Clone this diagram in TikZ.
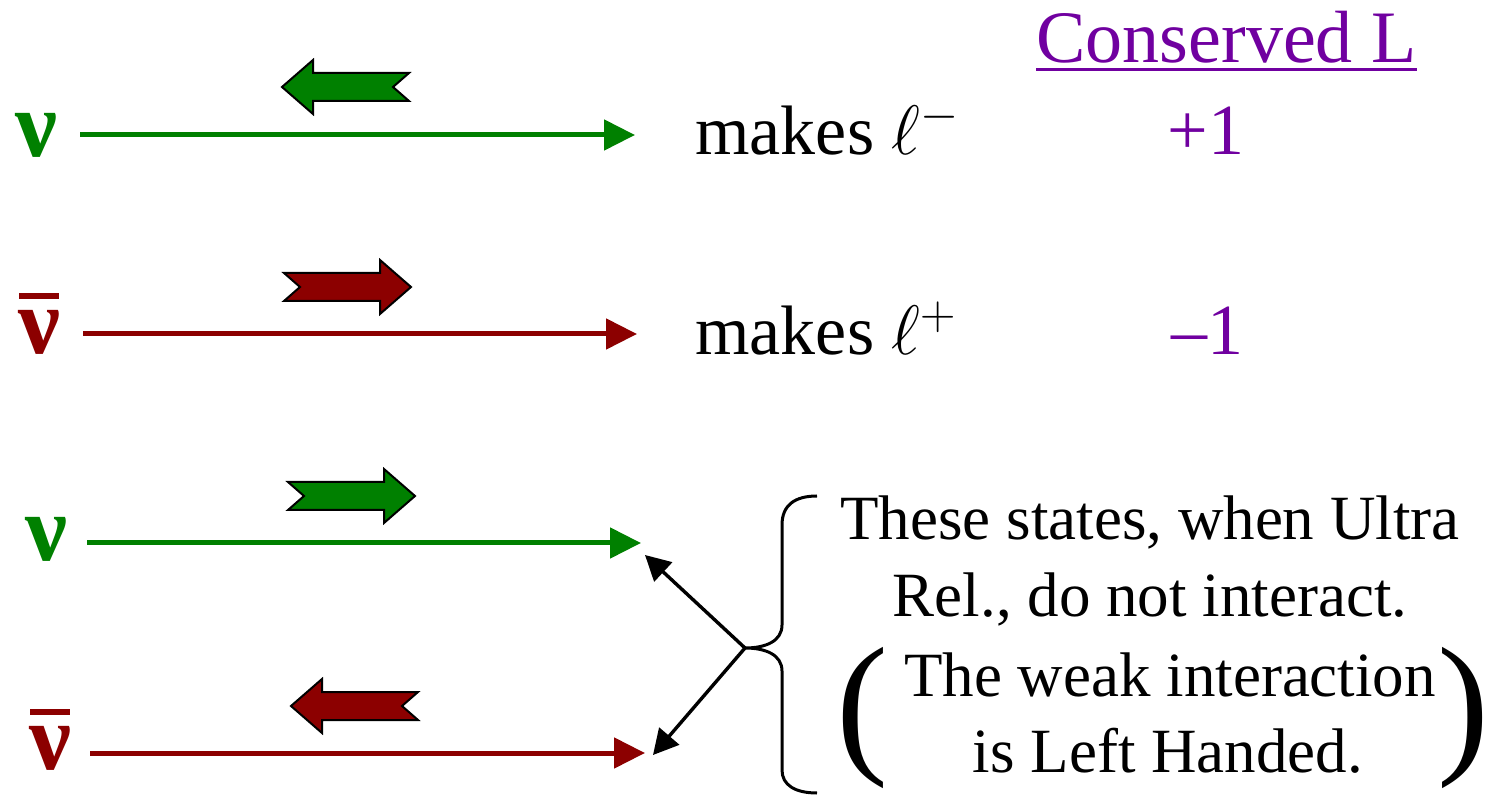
\RequirePackage{fix-cm}
\documentclass[tikz,border=0pt]{standalone}
\usepackage{fontspec}
\IfFontExistsTF{Liberation Serif}{\setmainfont{Liberation Serif}}{\setmainfont{DejaVu Serif}}
\usetikzlibrary{arrows.meta}
\definecolor{nugreen}{RGB}{0,128,0}
\definecolor{nured}{RGB}{140,0,0}
\definecolor{lpurple}{RGB}{112,0,160}
\tikzset{
  nulabel/.style={inner sep=0pt, font=\rmfamily\fontsize{47}{50}\selectfont\bfseries},
  bigtext/.style={inner sep=0pt, anchor=base west, font=\rmfamily\fontsize{35}{40}\selectfont},
  numtext/.style={inner sep=0pt, anchor=base, text=lpurple, font=\rmfamily\fontsize{36}{40}\selectfont},
  boxtext/.style={inner sep=0pt, anchor=base, font=\rmfamily\fontsize{31.5}{36}\selectfont},
  paren/.style={inner sep=0pt, font=\rmfamily\fontsize{78}{80}\selectfont},
  beam/.style={line width=2.5pt, -{Triangle[length=15.5pt,width=15pt]}},
  pointer/.style={line width=1.7pt, -{Triangle[length=12.5pt,width=13pt]}},
  nubar/.style={line width=3pt},
  pics/blockarrow/.style={code={
    \draw[line width=1pt, fill=#1, line join=miter]
      (16,0) -- (0,-14) -- (96,-14) -- (96,-27) -- (127,0)
      -- (96,27) -- (96,14) -- (0,14) -- cycle;
  }}
}
\begin{document}
\begin{tikzpicture}[x=0.5pt,y=-0.5pt]
\useasboundingbox (0,0) rectangle (1495,796);

% row 1: nu
\node[nulabel, text=nugreen] (nu1) at (36,135) {ν};
\coordinate (s1) at (80,135);
\coordinate (e1) at (635,135);
\draw[beam, nugreen] (s1) -- (e1);
\pic[xscale=-1] at (409,87) {blockarrow=nugreen};
\node[bigtext] (m1) at (695,155) {makes $\ell^{-}$};
\node[numtext] (p1) at (1206,155) {+1};

% row 2: anti-nu
\node[nulabel, text=nured] (nu2) at (39,332) {ν};
\draw[nubar, nured] (19,296) -- (59,296);
\coordinate (s2) at (83,334);
\coordinate (e2) at (637,334);
\draw[beam, nured] (s2) -- (e2);
\pic at (284,287) {blockarrow=nured};
\node[bigtext] (m2) at (695,355) {makes $\ell^{+}$};
\node[numtext] (p2) at (1207,355) {–1};

% header
\node[inner sep=0pt, anchor=base west, text=lpurple, font=\rmfamily\fontsize{37}{40}\selectfont] (cl) at (1036,63) {Conserved L};
\draw[lpurple, line width=1.5pt] ([yshift=-3.5pt]cl.base west) -- ([yshift=-3.5pt]cl.base east);

% row 3: nu
\node[nulabel, text=nugreen] (nu3) at (46,539) {ν};
\coordinate (s3) at (87,543);
\coordinate (e3) at (641,543);
\draw[beam, nugreen] (s3) -- (e3);
\pic at (288,496) {blockarrow=nugreen};

% row 4: anti-nu
\node[nulabel, text=nured] (nu4) at (50,748) {ν};
\draw[nubar, nured] (30,712) -- (70,712);
\coordinate (s4) at (90,753);
\coordinate (e4) at (645,753);
\draw[beam, nured] (s4) -- (e4);
\pic[xscale=-1] at (418,706) {blockarrow=nured};

% brace and pointers
\coordinate (bt) at (745,648);
\coordinate (t3) at (645,555);
\coordinate (t4) at (653,755);
\draw[line width=1.5pt] (817,496) .. controls (795,496) and (782,505) .. (782,525)
  -- (782,625) .. controls (782,641) and (766,648) .. (bt)
  .. controls (766,648) and (782,655) .. (782,671)
  -- (782,770) .. controls (782,785) and (795,793) .. (817,793);
\draw[pointer] (bt) -- (t3);
\draw[pointer] (bt) -- (t4);

% explanation text
\node[boxtext] (l1) at (1150,540) {These states, when Ultra};
\node[boxtext] (l2) at (1150,617) {Rel., do not interact.};
\node[boxtext] (l3) at (1170,697) {The weak interaction};
\node[boxtext] (l4) at (1168,772) {is Left Handed.};
\node[paren] (lp) at (862,718) {(};
\node[paren] (rp) at (1463,718) {)};
\end{tikzpicture}
\end{document}
